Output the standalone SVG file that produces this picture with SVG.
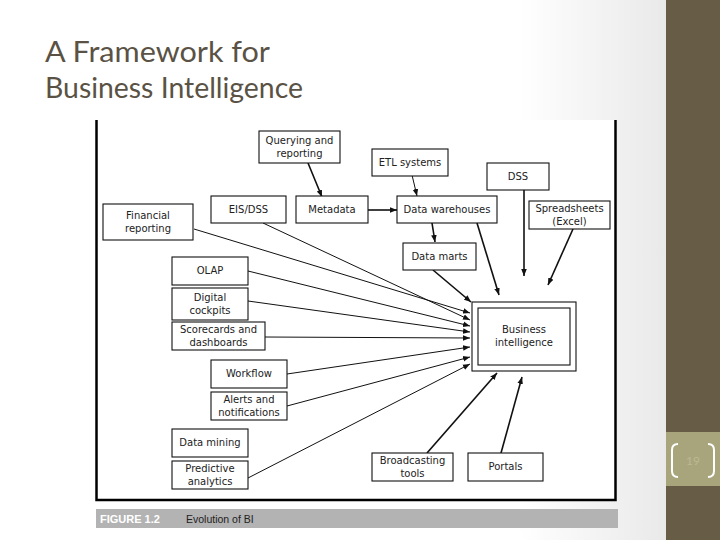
<svg xmlns="http://www.w3.org/2000/svg" width="720" height="540" viewBox="0 0 720 540">
<defs>
<linearGradient id="bg" x1="0" y1="0" x2="1" y2="0">
<stop offset="0" stop-color="#ffffff"/>
<stop offset="0.78" stop-color="#ffffff"/>
<stop offset="1" stop-color="#e9e9e9"/>
</linearGradient>
<marker id="ah" viewBox="0 0 10 10" refX="10" refY="5" markerWidth="7" markerHeight="7" orient="auto" markerUnits="userSpaceOnUse">
<path d="M0,1 L10,5 L0,9 z" fill="#111"/>
</marker>
<style>
.box{fill:#fff;stroke:#111;stroke-width:1.1}
.t{font-family:"DejaVu Sans","Liberation Sans",sans-serif;font-size:10px;fill:#222;text-anchor:middle}
.c{fill:none;stroke:#111;stroke-width:1}
.ck{fill:none;stroke:#111;stroke-width:1.6}
.title{font-family:Lato,"Open Sans","Liberation Sans",sans-serif;font-size:29px;font-weight:400;fill:#5a5244}
</style>
</defs>
<rect x="0" y="0" width="666" height="540" fill="url(#bg)"/>
<rect x="666" y="0" width="54" height="540" fill="#675d47"/>
<rect x="666" y="432" width="54" height="54" fill="#a8a57d"/>
<path d="M678,444 Q672,444 672,450 V471 Q672,477 678,477" fill="none" stroke="#fff" stroke-width="2"/>
<path d="M708,444 Q714,444 714,450 V471 Q714,477 708,477" fill="none" stroke="#fff" stroke-width="2"/>
<text x="693" y="465" font-family="Lato,sans-serif" font-size="12" fill="#bcb892" text-anchor="middle">19</text>
<text class="title" x="45" y="62" textLength="225" lengthAdjust="spacingAndGlyphs">A Framework for</text>
<text class="title" x="45" y="98" textLength="258" lengthAdjust="spacingAndGlyphs">Business Intelligence</text>
<rect x="96" y="120" width="520" height="380" fill="#fff"/>
<path d="M96.5,120 V500 H615.5 V120" fill="none" stroke="#000" stroke-width="2.5"/>
<rect x="96" y="509" width="522" height="19" fill="#b3b3b3"/>
<text x="100" y="522.5" font-family="Liberation Sans,Arial,sans-serif" font-size="11" font-weight="bold" fill="#fff">FIGURE 1.2</text>
<text x="186" y="522.5" font-family="Liberation Sans,Arial,sans-serif" font-size="10.5" fill="#222">Evolution of BI</text>
<g id="connectors">
<line class="ck" x1="308" y1="163" x2="322" y2="197" marker-end="url(#ah)"/>
<line class="c" x1="412" y1="175" x2="417" y2="196" marker-end="url(#ah)"/>
<line class="ck" x1="368" y1="210" x2="397" y2="210" marker-end="url(#ah)"/>
<line class="ck" x1="432" y1="223" x2="435" y2="242" marker-end="url(#ah)"/>
<line class="ck" x1="433" y1="270" x2="471" y2="302" marker-end="url(#ah)"/>
<line class="ck" x1="477" y1="223" x2="499" y2="295" marker-end="url(#ah)"/>
<line class="ck" x1="524" y1="190" x2="524" y2="276" marker-end="url(#ah)"/>
<line class="ck" x1="573" y1="229" x2="548" y2="285" marker-end="url(#ah)"/>
<line class="c" x1="194" y1="229" x2="470" y2="313" marker-end="url(#ah)"/>
<line class="c" x1="263" y1="223" x2="470" y2="320" marker-end="url(#ah)"/>
<line class="c" x1="248" y1="271" x2="470" y2="326" marker-end="url(#ah)"/>
<line class="c" x1="248" y1="301" x2="470" y2="332" marker-end="url(#ah)"/>
<line class="c" x1="265" y1="337" x2="470" y2="338" marker-end="url(#ah)"/>
<line class="c" x1="287" y1="374" x2="470" y2="347" marker-end="url(#ah)"/>
<line class="c" x1="287" y1="406" x2="470" y2="357" marker-end="url(#ah)"/>
<line class="c" x1="248" y1="478" x2="470" y2="364" marker-end="url(#ah)"/>
<line class="ck" x1="427" y1="453" x2="497" y2="373" marker-end="url(#ah)"/>
<line class="ck" x1="501" y1="453" x2="522" y2="377" marker-end="url(#ah)"/>
</g>
<g id="n-querying"><rect class="box" x="259" y="131" width="81" height="32"/><text class="t" x="299.5" y="144">Querying and</text><text class="t" x="299.5" y="157">reporting</text></g>
<g id="n-etl"><rect class="box" x="372" y="149" width="76" height="27"/><text class="t" x="410" y="166">ETL systems</text></g>
<g id="n-dss"><rect class="box" x="487" y="163" width="62" height="27"/><text class="t" x="518" y="180">DSS</text></g>
<g id="n-financial"><rect class="box" x="103" y="204" width="90" height="36"/><text class="t" x="148" y="219">Financial</text><text class="t" x="148" y="232">reporting</text></g>
<g id="n-eis"><rect class="box" x="211" y="196" width="75" height="27"/><text class="t" x="248.5" y="213">EIS/DSS</text></g>
<g id="n-metadata"><rect class="box" x="296" y="196" width="72" height="27"/><text class="t" x="332" y="213">Metadata</text></g>
<g id="n-dw"><rect class="box" x="397" y="196" width="100" height="27"/><text class="t" x="447" y="213">Data warehouses</text></g>
<g id="n-spreadsheets"><rect class="box" x="529" y="201" width="81" height="28"/><text class="t" x="569.5" y="212">Spreadsheets</text><text class="t" x="569.5" y="225">(Excel)</text></g>
<g id="n-datamarts"><rect class="box" x="403" y="243" width="73" height="27"/><text class="t" x="439.5" y="260">Data marts</text></g>
<g id="n-olap"><rect class="box" x="172" y="257" width="76" height="28"/><text class="t" x="210" y="274">OLAP</text></g>
<g id="n-cockpits"><rect class="box" x="172" y="288" width="76" height="32"/><text class="t" x="210" y="301">Digital</text><text class="t" x="210" y="314">cockpits</text></g>
<g id="n-scorecards"><rect class="box" x="172" y="322" width="93" height="28"/><text class="t" x="218.5" y="333">Scorecards and</text><text class="t" x="218.5" y="346">dashboards</text></g>
<g id="n-bi"><rect class="box" x="472" y="302" width="104" height="69"/><rect class="box" x="478" y="308" width="92" height="57"/><text class="t" x="524" y="333">Business</text><text class="t" x="524" y="346">intelligence</text></g>
<g id="n-workflow"><rect class="box" x="211" y="360" width="76" height="28"/><text class="t" x="249" y="377">Workflow</text></g>
<g id="n-alerts"><rect class="box" x="211" y="392" width="76" height="28"/><text class="t" x="249" y="403">Alerts and</text><text class="t" x="249" y="416">notifications</text></g>
<g id="n-datamining"><rect class="box" x="172" y="429" width="76" height="28"/><text class="t" x="210" y="446">Data mining</text></g>
<g id="n-predictive"><rect class="box" x="172" y="461" width="76" height="28"/><text class="t" x="210" y="472">Predictive</text><text class="t" x="210" y="485">analytics</text></g>
<g id="n-broadcasting"><rect class="box" x="372" y="453" width="81" height="28"/><text class="t" x="412.5" y="464">Broadcasting</text><text class="t" x="412.5" y="477">tools</text></g>
<g id="n-portals"><rect class="box" x="468" y="453" width="75" height="28"/><text class="t" x="505.5" y="470">Portals</text></g>
</svg>
